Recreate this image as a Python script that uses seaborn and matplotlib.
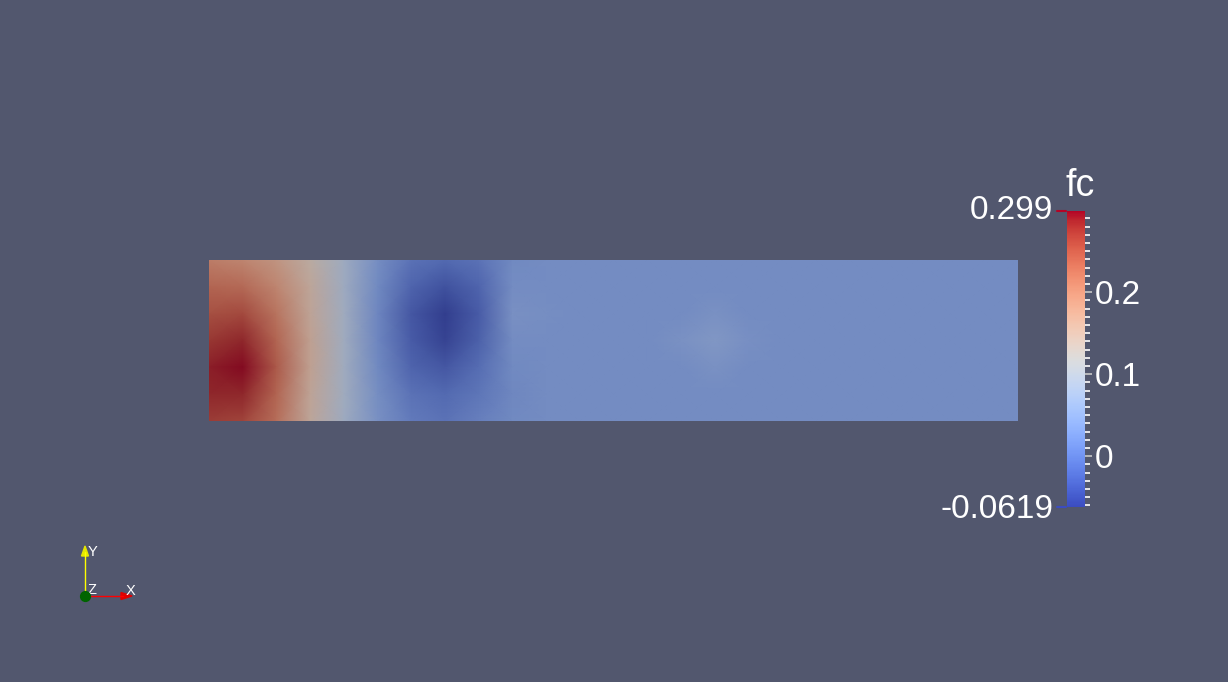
import numpy as np
import matplotlib
matplotlib.use('Agg')
import matplotlib.pyplot as plt
import matplotlib as mpl
from matplotlib.colors import ListedColormap, Normalize
from matplotlib.ticker import MultipleLocator, FixedLocator
import seaborn as sns

sns.set_theme(style='white')
plt.rcParams['font.family'] = ['Liberation Sans', 'DejaVu Sans']

# field "fc" sampled on a 7 x 25 node grid (top row first, left column first)
FLAT = 0.028
fc_row0 = [0.21, 0.20, 0.18, 0.14, 0.085, 0.03, -0.005, -0.015, -0.005, 0.025] + [FLAT] * 15
fc_row1 = [0.235, 0.23, 0.2, 0.15, 0.085, 0.025, -0.02, -0.04, -0.02, 0.028] + [FLAT] * 15
fc_row2 = [0.255, 0.26, 0.22, 0.155, 0.09, 0.02, -0.035, -0.0619, -0.03, 0.035,
           0.03, FLAT, FLAT, FLAT, FLAT, 0.036, FLAT] + [FLAT] * 8
fc_row3 = [0.275, 0.285, 0.235, 0.16, 0.09, 0.02, -0.03, -0.055, -0.025, 0.028,
           FLAT, FLAT, FLAT, FLAT, 0.036, 0.045, 0.033] + [FLAT] * 8
fc_row4 = [0.29, 0.299, 0.245, 0.16, 0.09, 0.025, -0.02, -0.035, -0.01, 0.025,
           FLAT, FLAT, FLAT, FLAT, FLAT, 0.036, FLAT] + [FLAT] * 8
fc_row5 = [0.285, 0.285, 0.235, 0.155, 0.09, 0.03, -0.005, -0.015, 0.0, 0.022] + [FLAT] * 15
fc_row6 = [0.27, 0.265, 0.225, 0.15, 0.085, 0.035, 0.005, -0.005, 0.01, 0.025] + [FLAT] * 15

fc_min = -0.0619
fc_max = 0.299
bar_ticks = [0, 0.1, 0.2]
bar_labels = ['0', '0.1', '0.2']

BG = '#52576E'
W, H = 1228, 682

fc = np.array([fc_row0, fc_row1, fc_row2, fc_row3, fc_row4, fc_row5, fc_row6])
nrows, ncols = fc.shape

# surface is lit, so it reads darker and a bit greyer than the legend
base = plt.cm.coolwarm(np.linspace(0, 1, 256))[:, :3]
lum = base @ np.array([0.3, 0.59, 0.11])
shaded = 0.8 * (0.86 * base + 0.14 * lum[:, None])
field_cmap = ListedColormap(np.clip(shaded, 0, 1))

fig = plt.figure(figsize=(W / 100, H / 100), dpi=100, facecolor=BG)

ax = fig.add_axes([209 / W, 1 - 421 / H, 809 / W, 161 / H])
sns.heatmap(fc, ax=ax, cmap=field_cmap, vmin=fc_min, vmax=fc_max, cbar=False,
            xticklabels=False, yticklabels=False, shading='gouraud')
ax.set_xlim(0, ncols - 1)
ax.set_ylim(nrows - 1, 0)
ax.axis('off')

# color legend
cax = fig.add_axes([1067 / W, 1 - 507 / H, 18 / W, 296 / H])
norm = Normalize(fc_min, fc_max)
cb = mpl.colorbar.ColorbarBase(cax, cmap=plt.cm.coolwarm, norm=norm, orientation='vertical')
cb.outline.set_visible(False)
cax.yaxis.set_major_locator(FixedLocator(bar_ticks))
cax.set_yticklabels(bar_labels)
cax.yaxis.set_minor_locator(MultipleLocator(0.01))
cax.tick_params(axis='y', which='major', direction='inout', length=9.5, width=1.2,
                color='#c8c8c8', labelcolor='white', labelsize=24, pad=2, right=True)
cax.tick_params(axis='y', which='minor', direction='inout', length=7, width=1.2,
                color='white', right=True)

fig.text(1053 / W, 1 - 211 / H, f'{fc_max:g}', color='white', fontsize=24,
         ha='right', va='center')
fig.text(1053 / W, 1 - 509 / H, f'{fc_min:g}', color='white', fontsize=24,
         ha='right', va='center')
fig.text(1066 / W, 1 - 186 / H, 'fc', color='white', fontsize=27, ha='left', va='center')

# overlay in pixel units for range marks and orientation triad
ov = fig.add_axes([0, 0, 1, 1], facecolor='none')
ov.set_xlim(0, W)
ov.set_ylim(H, 0)
ov.axis('off')
ov.plot([1057, 1066], [211, 211], color='#b40426', lw=1.5)
ov.plot([1057, 1066], [507, 507], color='#3b4cc0', lw=1.5)

ox, oy = 85, 596
ov.plot([ox, ox], [oy, oy - 44], color='#ffff00', lw=1)
ov.fill([ox - 3.5, ox + 3.5, ox], [oy - 40, oy - 40, oy - 50], color='#e6e600')
ov.plot([ox, ox + 38], [oy, oy], color='#ff0000', lw=1)
ov.fill([ox + 36, ox + 36, ox + 47], [oy - 3.5, oy + 3.5, oy], color='#e00000')
ov.scatter([ox], [oy], s=50, color='#006400', zorder=5)
ov.text(ox + 3, oy - 44, 'Y', color='white', fontsize=10.5, ha='left', va='center')
ov.text(ox + 41, oy - 5, 'X', color='white', fontsize=10.5, ha='left', va='center')
ov.text(ox + 3, oy - 6, 'Z', color='white', fontsize=10.5, ha='left', va='center')

plt.savefig('out.png', dpi=100, facecolor=BG)
